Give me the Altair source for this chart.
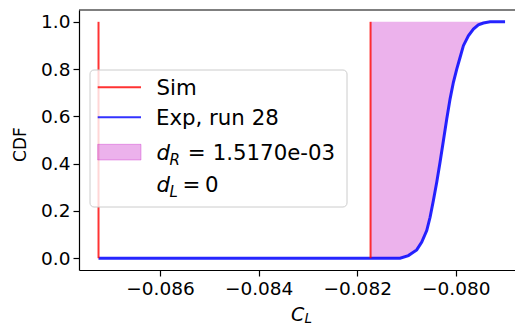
import altair as alt
import pandas as pd

# ---- data ----
exp_x = [-0.087248, -0.081130, -0.080961, -0.080792, -0.080690, -0.080589, -0.080521,
         -0.080454, -0.080386, -0.080319, -0.080251, -0.080183, -0.080116, -0.080048,
         -0.079980, -0.079913, -0.079845, -0.079744, -0.079642, -0.079541, -0.079439,
         -0.079304, -0.079000]
exp_cdf = [0.0, 0.0, 0.011, 0.035, 0.068, 0.117, 0.173, 0.244, 0.321, 0.406, 0.497,
           0.589, 0.673, 0.744, 0.800, 0.849, 0.899, 0.941, 0.969, 0.987, 0.995, 1.0, 1.0]
sim_x = [-0.087248, -0.081729]
sim_cdf_lo = [0.0, 0.0]
sim_cdf_hi = [1.0, 1.0]
x_ticks = [-0.086, -0.084, -0.082, -0.080]
y_ticks = [0.0, 0.2, 0.4, 0.6, 0.8, 1.0]
legend_labels = ["Sim", "Exp, run 28", "1.5170e-03", "0"]

W, H = 444, 260
FONT = "DejaVu Sans"
xdom = [-0.087644, -0.078636]
ydom = [-0.05, 1.05]

exp_df = pd.DataFrame({"x": exp_x, "cdf": exp_cdf, "i": range(len(exp_x))})
area_df = pd.DataFrame({"cdf": exp_cdf[1:], "xl": [sim_x[1]] * (len(exp_x) - 1), "xr": exp_x[1:]})
sim_df = pd.DataFrame({"x": sim_x, "lo": sim_cdf_lo, "hi": sim_cdf_hi})
one = pd.DataFrame({"k": [0]})

xscale = alt.Scale(domain=xdom, nice=False, zero=False)
yscale = alt.Scale(domain=ydom, nice=False, zero=False)

xaxis = alt.Axis(values=x_ticks, format=".3f", grid=False, labelFontSize=18.5, labelFont=FONT,
                 labelColor="black", tickColor="black", tickSize=6, labelPadding=3,
                 domainColor="black", domainWidth=1.2, tickWidth=1.2, labelFlush=False)
yaxis = alt.Axis(values=y_ticks, format=".1f", grid=False, labelFontSize=18.5, labelFont=FONT,
                 labelColor="black", tickColor="black", tickSize=6, labelPadding=3,
                 domainColor="black", domainWidth=1.2, tickWidth=1.2, labelFlush=False)

area = alt.Chart(area_df).mark_area(orient="horizontal", color="#bf00bf", opacity=0.3).encode(
    y=alt.Y("cdf:Q", scale=yscale, axis=yaxis, title=None),
    x=alt.X("xl:Q", scale=xscale, axis=xaxis, title=None),
    x2="xr:Q",
)

line = alt.Chart(exp_df).mark_line(color="blue", opacity=0.85, strokeWidth=3).encode(
    x=alt.X("x:Q", scale=xscale),
    y=alt.Y("cdf:Q", scale=yscale),
    order="i:Q",
)

sim = alt.Chart(sim_df).mark_rule(color="red", opacity=0.8, strokeWidth=2).encode(
    x=alt.X("x:Q", scale=xscale),
    y=alt.Y("lo:Q", scale=yscale),
    y2="hi:Q",
)

top_border = alt.Chart(one).mark_rule(color="black", strokeWidth=1.2).encode(
    x=alt.value(0), x2=alt.value(W), y=alt.value(0)
)

def txt(s, x, y, size=21.3, style="normal", align="left", baseline="alphabetic", angle=0):
    props = dict(text=s, font=FONT, fontSize=size, fontStyle=style, align=align,
                 baseline=baseline, color="black")
    if angle:
        props["angle"] = angle
    return alt.Chart(one).mark_text(**props).encode(x=alt.value(x), y=alt.value(y))

legend_box = alt.Chart(one).mark_rect(fill="white", fillOpacity=0.8, stroke="#cccccc",
                                       strokeWidth=1, cornerRadius=4).encode(
    x=alt.value(11), x2=alt.value(268), y=alt.value(60), y2=alt.value(197)
)
leg_sim = alt.Chart(one).mark_rule(color="red", opacity=0.8, strokeWidth=2).encode(
    x=alt.value(18.7), x2=alt.value(62), y=alt.value(77.3)
)
leg_exp = alt.Chart(one).mark_rule(color="blue", opacity=0.8, strokeWidth=2).encode(
    x=alt.value(18.7), x2=alt.value(62), y=alt.value(107.3)
)
leg_patch = alt.Chart(one).mark_rect(fill="#bf00bf", fillOpacity=0.3, stroke="#bf00bf",
                                      strokeOpacity=0.3, strokeWidth=1).encode(
    x=alt.value(18.7), x2=alt.value(62), y=alt.value(134.3), y2=alt.value(150)
)

texts = [
    txt(legend_labels[0], 77.5, 85),
    txt(legend_labels[1], 77, 115),
    txt("d", 77.5, 150, style="italic"),
    txt("R", 90.5, 154.5, size=15, style="italic"),
    txt("=", 108.7, 150),
    txt(legend_labels[2], 133.7, 150),
    txt("d", 77.5, 182, style="italic"),
    txt("L", 90.5, 187, size=15, style="italic"),
    txt("=", 103.5, 182),
    txt(legend_labels[3], 126, 182),
    # axis titles
    txt("C", 212, 311, size=19, style="italic"),
    txt("L", 225.5, 313, size=13.5, style="italic"),
    txt("CDF", -58.5, 134.5, size=17, align="center", baseline="middle", angle=270),
]

chart = alt.layer(area, line, sim, top_border, legend_box, leg_sim, leg_exp, leg_patch, *texts).properties(
    width=W, height=H,
    autosize=alt.AutoSizeParams(type="none"),
    padding={"left": 71, "top": 2, "right": -8, "bottom": 55},
    background="white",
).configure_view(strokeWidth=0)

chart.save("out.html", embed_options={"renderer": "svg", "actions": False})
